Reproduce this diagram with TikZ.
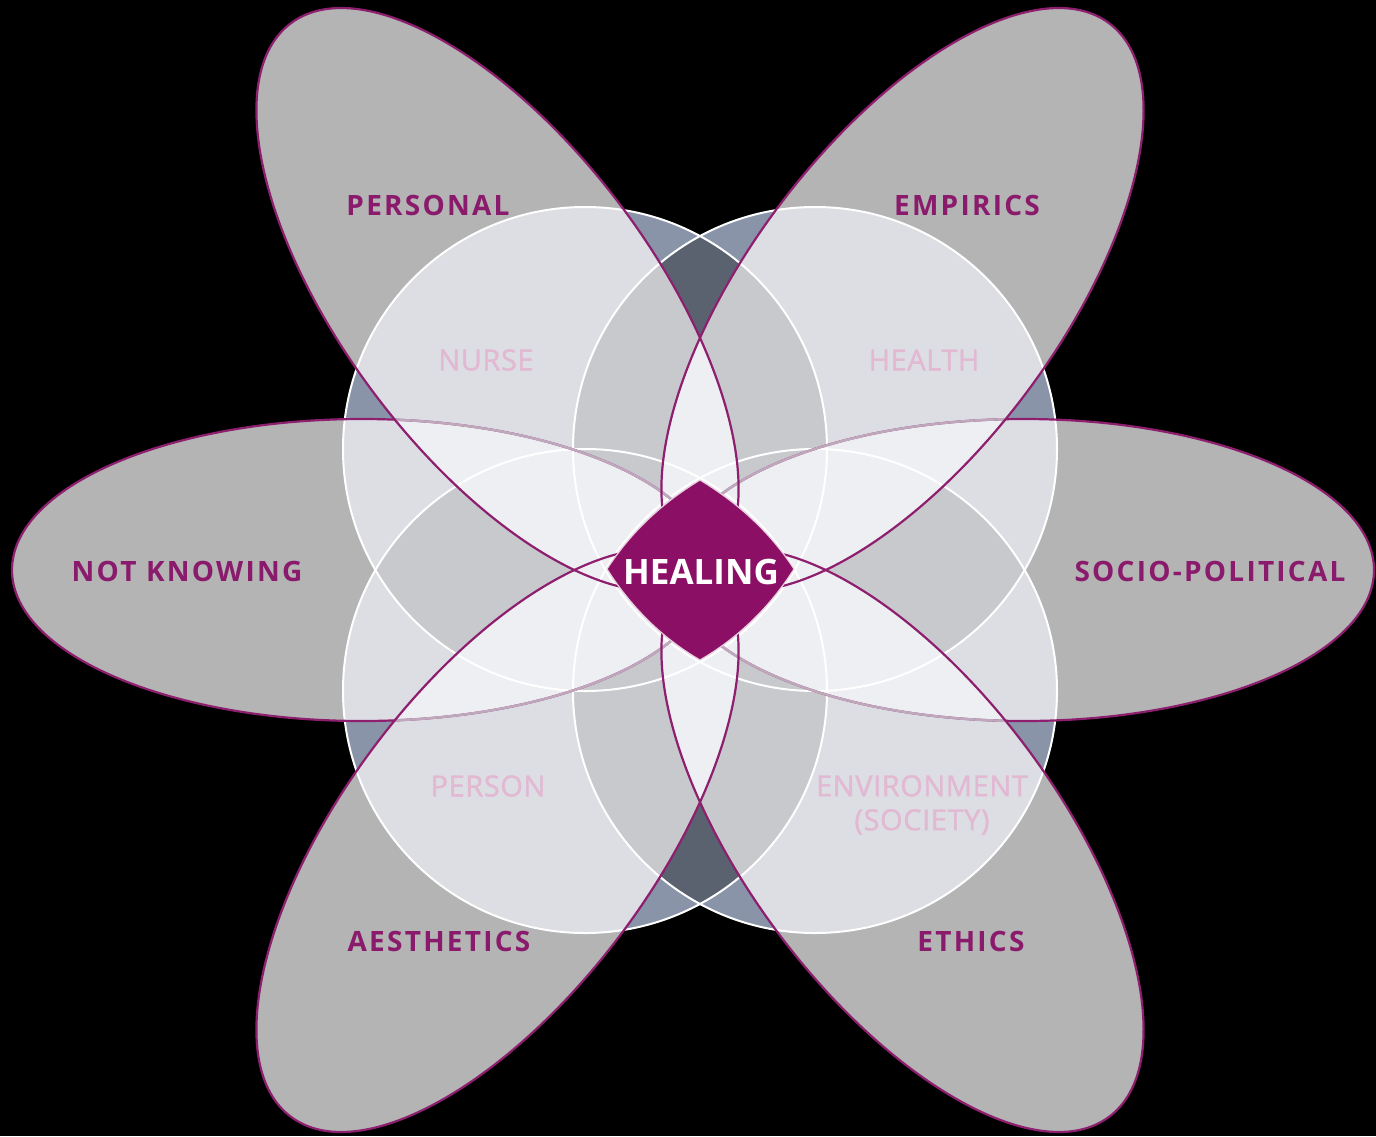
\documentclass[tikz,border=0pt]{standalone}
\usepackage{fontspec}
\setmainfont{Open Sans}
\definecolor{petalgrey}{HTML}{B4B4B4}
\definecolor{bluegrey}{HTML}{8994A8}
\definecolor{slate}{HTML}{5A6270}
\definecolor{lightc}{HTML}{DCDEE4}
\definecolor{medc}{HTML}{C8C9CD}
\definecolor{vlight}{HTML}{EEEFF2}
\definecolor{mag}{HTML}{8E1E6E}
\definecolor{magtext}{HTML}{8A1A6C}
\definecolor{faintmag}{HTML}{BFA8BC}
\definecolor{pinklabel}{HTML}{E2B8D3}
\definecolor{diamondc}{HTML}{8C0F66}
\def\petallist{1/362/570/0/350/151, 2/1024/570/0/350/151, 3/497.5/299.5/-53.2/345/155, 4/902.5/299.5/53.2/345/155, 5/497.5/840.5/53.2/345/155, 6/902.5/840.5/-53.2/345/155}
\def\horizlist{1/362/570/0/350/151, 2/1024/570/0/350/151}
\def\diaglist{3/497.5/299.5/-53.2/345/155, 4/902.5/299.5/53.2/345/155, 5/497.5/840.5/53.2/345/155, 6/902.5/840.5/-53.2/345/155}
\def\circlelist{1/585/449, 2/815/449, 3/585/691, 4/815/691}
\newcommand\circleunion{(585,449) circle[radius=242] (815,449) circle[radius=242] (585,691) circle[radius=242] (815,691) circle[radius=242]}
\tikzset{
  outerlabel/.style={text=magtext, font=\fontsize{28}{28}\selectfont\bfseries\addfontfeatures{LetterSpace=8}},
  innerlabel/.style={text=pinklabel, font=\fontsize{29}{34}\selectfont\addfontfeatures{LetterSpace=2,FakeBold=1.2}, align=center},
  petalline/.style={draw=mag, line width=2.2},
  faintline/.style={draw=faintmag, line width=2.4},
  circleline/.style={draw=white, line width=2},
}
\begin{document}
\begin{tikzpicture}[x=1pt,y=-1pt]
\fill[black] (0,0) rectangle (1376,1136);
\useasboundingbox (0,0) rectangle (1376,1136);
% petals
\foreach \i/\cx/\cy/\an/\ra/\rb in \petallist
  \fill[petalgrey, rotate around={\an:(\cx,\cy)}] (\cx,\cy) ellipse [x radius=\ra, y radius=\rb];
% circles over background
\foreach \i/\x/\y in \circlelist
  \fill[bluegrey] (\x,\y) circle[radius=242];
% circle pairs over background
\foreach \i/\x/\y in \circlelist {
  \foreach \j/\xx/\yy in \circlelist {
    \ifnum\j>\i
    \begin{scope}
      \clip (\x,\y) circle[radius=242];
      \fill[slate] (\xx,\yy) circle[radius=242];
    \end{scope}
    \fi
  }
}
% petals inside circles
\begin{scope}
  \clip \circleunion;
  \foreach \i/\cx/\cy/\an/\ra/\rb in \petallist
    \fill[lightc, rotate around={\an:(\cx,\cy)}] (\cx,\cy) ellipse [x radius=\ra, y radius=\rb];
\end{scope}
% petals inside two circles
\foreach \i/\x/\y in \circlelist {
  \foreach \j/\xx/\yy in \circlelist {
    \ifnum\j>\i
    \begin{scope}
      \clip (\x,\y) circle[radius=242];
      \clip (\xx,\yy) circle[radius=242];
      \foreach \k/\cx/\cy/\an/\ra/\rb in \petallist
        \fill[medc, rotate around={\an:(\cx,\cy)}] (\cx,\cy) ellipse [x radius=\ra, y radius=\rb];
    \end{scope}
    \fi
  }
}
% two petals inside circles
\begin{scope}
  \clip \circleunion;
  \foreach \i/\cx/\cy/\an/\ra/\rb in \petallist {
    \foreach \j/\dx/\dy/\bn/\sa/\sb in \petallist {
      \ifnum\j>\i
      \begin{scope}
        \clip[rotate around={\an:(\cx,\cy)}] (\cx,\cy) ellipse [x radius=\ra, y radius=\rb];
        \fill[vlight, rotate around={\bn:(\dx,\dy)}] (\dx,\dy) ellipse [x radius=\sa, y radius=\sb];
      \end{scope}
      \fi
    }
  }
\end{scope}
% circle outlines
\foreach \i/\x/\y in \circlelist
  \draw[circleline] (\x,\y) circle[radius=242];
% horizontal petal outlines
\foreach \i/\cx/\cy/\an/\ra/\rb in \horizlist
  \draw[petalline] (\cx,\cy) ellipse [x radius=\ra, y radius=\rb];
\foreach \k/\dx/\dy/\bn/\sa/\sb in \diaglist {
  \begin{scope}
    \clip[rotate around={\bn:(\dx,\dy)}] (\dx,\dy) ellipse [x radius=\sa, y radius=\sb];
    \foreach \i/\cx/\cy/\an/\ra/\rb in \horizlist
      \draw[faintline] (\cx,\cy) ellipse [x radius=\ra, y radius=\rb];
  \end{scope}
}
% diagonal petal outlines
\foreach \i/\cx/\cy/\an/\ra/\rb in \diaglist
  \draw[petalline, rotate around={\an:(\cx,\cy)}] (\cx,\cy) ellipse [x radius=\ra, y radius=\rb];
% centre diamond
\coordinate (dl) at (607,569);
\coordinate (dt) at (700,480);
\coordinate (dr) at (794,569);
\coordinate (db) at (700,660);
\filldraw[fill=diamondc, draw=white!80!diamondc, line width=1.2]
  (dl) .. controls (631,532) and (662,503) .. (dt)
       .. controls (738,503) and (770,532) .. (dr)
       .. controls (770,607) and (738,638) .. (db)
       .. controls (662,638) and (631,607) .. (dl) -- cycle;
\node[text=white, font=\fontsize{35}{35}\selectfont\bfseries] (healing) at (701,572) {HEALING};
% outer labels
\node[outerlabel] (personal) at (428,205) {PERSONAL};
\node[outerlabel] (empirics) at (967,205) {EMPIRICS};
\node[outerlabel] (notknowing) at (187,571) {NOT KNOWING};
\node[outerlabel] (socio) at (1210,571) {SOCIO-POLITICAL};
\node[outerlabel] (aesthetics) at (439,941) {AESTHETICS};
\node[outerlabel] (ethics) at (971,941) {ETHICS};
% inner labels
\node[innerlabel] (nurse) at (486,360) {NURSE};
\node[innerlabel] (health) at (924,360) {HEALTH};
\node[innerlabel] (person) at (488,786) {PERSON};
\node[innerlabel] (environment) at (922,805) {ENVIRONMENT\\(SOCIETY)};
\end{tikzpicture}
\end{document}
